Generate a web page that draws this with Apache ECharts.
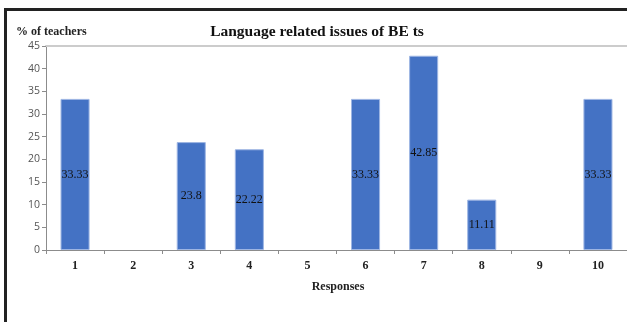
<!DOCTYPE html>
<html>
<head>
<meta charset="utf-8">
<script src="https://cdn.jsdelivr.net/npm/echarts@6/dist/echarts.min.js"></script>
<style>
  html, body { margin: 0; padding: 0; background: #fff; }
  #chart { width: 627px; height: 322px; }
</style>
</head>
<body>
<div id="chart"></div>
<script>
// Responses and the share of teachers reporting each one
const responses = ['1', '2', '3', '4', '5', '6', '7', '8', '9', '10'];
const teacherPercent = [33.33, 0, 23.8, 22.22, 0, 33.33, 42.85, 11.11, 0, 33.33];
const yTicks = { min: 0, max: 45, step: 5 };

const serif = '"Liberation Serif", "DejaVu Serif", serif';
const sans = '"Open Sans", "DejaVu Sans", sans-serif';

// zero-valued responses get no outline so nothing shows at the baseline
const barData = teacherPercent.map(v =>
  v === 0 ? { value: v, itemStyle: { borderWidth: 0 } } : v
);

const chart = echarts.init(document.getElementById('chart'), null, { renderer: 'canvas' });

chart.setOption({
  backgroundColor: '#ffffff',
  animation: false,
  title: [
    {
      text: 'Language related issues of BE ts',
      left: 317, top: 24, textAlign: 'center', padding: 0,
      textStyle: { fontFamily: serif, fontWeight: 'bold', fontSize: 15.5, color: '#111' }
    },
    {
      text: '% of teachers',
      left: 16, top: 26, padding: 0,
      textStyle: { fontFamily: serif, fontWeight: 'bold', fontSize: 12, color: '#222' }
    },
    {
      text: 'Responses',
      left: 338, top: 281, textAlign: 'center', padding: 0,
      textStyle: { fontFamily: serif, fontWeight: 'bold', fontSize: 12, color: '#222' }
    }
  ],
  grid: { left: 46, top: 46, width: 584, height: 204, containLabel: false },
  xAxis: [
    {
      type: 'category',
      data: responses,
      position: 'bottom',
      axisLine: { lineStyle: { color: '#8c8c8c', width: 1 } },
      axisTick: { show: true, length: 4, alignWithLabel: false, lineStyle: { color: '#8c8c8c' } },
      axisLabel: { fontFamily: serif, fontWeight: 'bold', fontSize: 12, color: '#222', margin: 10 }
    },
    {
      // top border of the plot area
      type: 'category',
      data: responses,
      position: 'top',
      axisLine: { lineStyle: { color: '#cccccc', width: 2 } },
      axisTick: { show: false },
      axisLabel: { show: false }
    }
  ],
  yAxis: {
    type: 'value',
    min: yTicks.min, max: yTicks.max, interval: yTicks.step,
    axisLine: { show: true, lineStyle: { color: '#8c8c8c', width: 1 } },
    axisTick: { show: true, length: 4, lineStyle: { color: '#8c8c8c' } },
    axisLabel: { fontFamily: sans, fontSize: 10.5, color: '#555', margin: 6 },
    splitLine: { show: false }
  },
  series: [{
    type: 'bar',
    data: barData,
    barWidth: '50%',
    itemStyle: { color: '#4472c4', borderColor: '#9db5e3', borderWidth: 1 },
    label: {
      show: true,
      position: 'inside',
      fontFamily: serif, fontSize: 12, color: '#111',
      formatter: p => (p.value ? String(p.value) : '')
    }
  }],
  graphic: [
    {
      type: 'line', silent: true,
      shape: { x1: 4, y1: 9.5, x2: 627, y2: 9.5 },
      style: { stroke: '#222', lineWidth: 3 }
    },
    {
      type: 'line', silent: true,
      shape: { x1: 5.5, y1: 9, x2: 5.5, y2: 322 },
      style: { stroke: '#222', lineWidth: 3 }
    }
  ]
});
</script>
</body>
</html>
